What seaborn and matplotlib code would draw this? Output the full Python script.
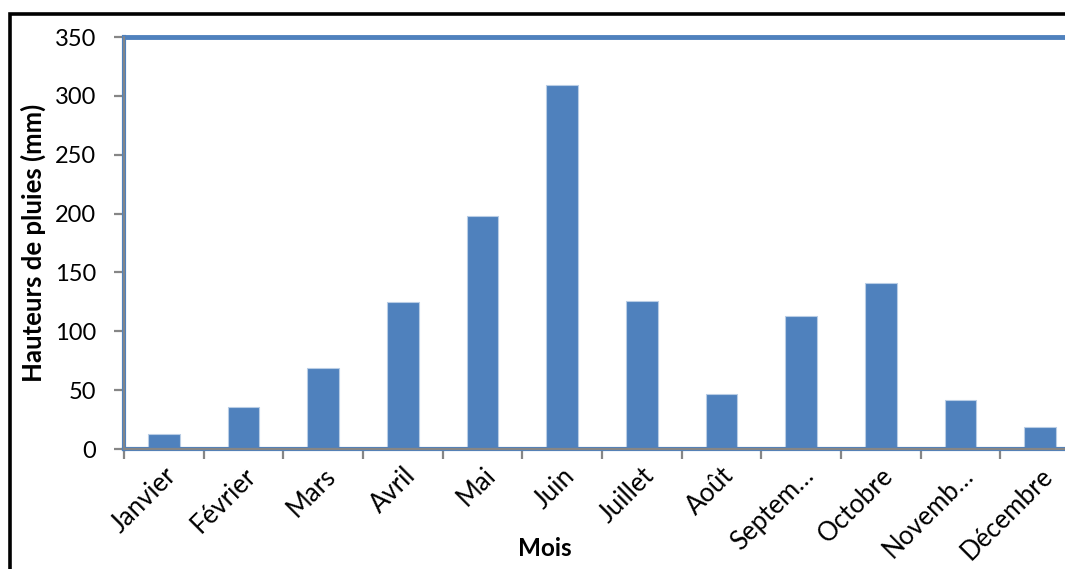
import matplotlib
matplotlib.use("Agg")
import matplotlib.pyplot as plt
from matplotlib.patches import Rectangle
from matplotlib.ticker import FixedLocator
import seaborn as sns
import pandas as pd

# Monthly rainfall (mm)
mois = ["Janvier", "Février", "Mars", "Avril", "Mai", "Juin",
        "Juillet", "Août", "Septem…", "Octobre", "Novemb…", "Décembre"]
pluies = [13, 36, 69, 125, 198, 309, 125.5, 47, 113, 141, 42, 19]
yticks = [0, 50, 100, 150, 200, 250, 300, 350]

sns.set_theme(style="white")
plt.rcParams["font.family"] = ["Lato", "DejaVu Sans"]

BAR = "#4F81BD"
AXIS_GREY = "#868686"

df = pd.DataFrame({"Mois": mois, "Pluies": pluies})

fig = plt.figure(figsize=(10.65, 5.69), dpi=100)
ax = fig.add_axes([124 / 1065, 1 - 449 / 569, 956 / 1065, 412 / 569])

sns.barplot(data=df, x="Mois", y="Pluies", color=BAR, width=0.4,
            saturation=1, edgecolor="#B9CDE5", linewidth=0.8, ax=ax)

ax.set_xlim(-0.5, len(mois) - 0.5)
ax.set_ylim(0, 350)
ax.set_yticks(yticks)

# frame of the plot area
for side in ["top", "right", "left", "bottom"]:
    ax.spines[side].set_visible(True)
    ax.spines[side].set_color(BAR)
    ax.spines[side].set_linewidth(3)
ax.spines["top"].set_linewidth(3.5)

# grey axis lines drawn over the frame
ax.axhline(0, color=AXIS_GREY, lw=1.6, zorder=5, clip_on=False)
ax.axvline(-0.5, color=AXIS_GREY, lw=1.3, zorder=5, clip_on=False)

# category labels centred, tick marks between categories
ax.xaxis.set_minor_locator(FixedLocator([i - 0.5 for i in range(len(mois) + 1)]))
ax.tick_params(axis="x", which="major", length=0, pad=10, labelsize=18.5,
               labelcolor="black")
ax.tick_params(axis="x", which="minor", bottom=True, length=7, width=1.6,
               color=AXIS_GREY, direction="out")
ax.tick_params(axis="y", left=True, length=7, width=1.6, color=AXIS_GREY,
               direction="out", pad=13, labelsize=17, labelcolor="black")
for lab in ax.get_xticklabels():
    lab.set_rotation(45)
    lab.set_ha("right")
    lab.set_rotation_mode("anchor")

ax.set_xlabel("Mois", fontsize=17.5, fontweight="bold", color="black")
ax.set_ylabel("Hauteurs de pluies (mm)", fontsize=18.5, fontweight="bold",
              color="black")
ax.xaxis.set_label_coords((545 - 124) / 956, -(537 - 449) / 412)
ax.yaxis.set_label_coords(-(124 - 46) / 956, 0.5)

# outer chart border
fig.patches.append(Rectangle((9.5 / 1065, -0.1), 1.2, 1 - 14 / 569 + 0.1,
                             transform=fig.transFigure, fill=False,
                             edgecolor="black", linewidth=2.6, zorder=10))

fig.savefig("out.png", dpi=100, facecolor="white")
